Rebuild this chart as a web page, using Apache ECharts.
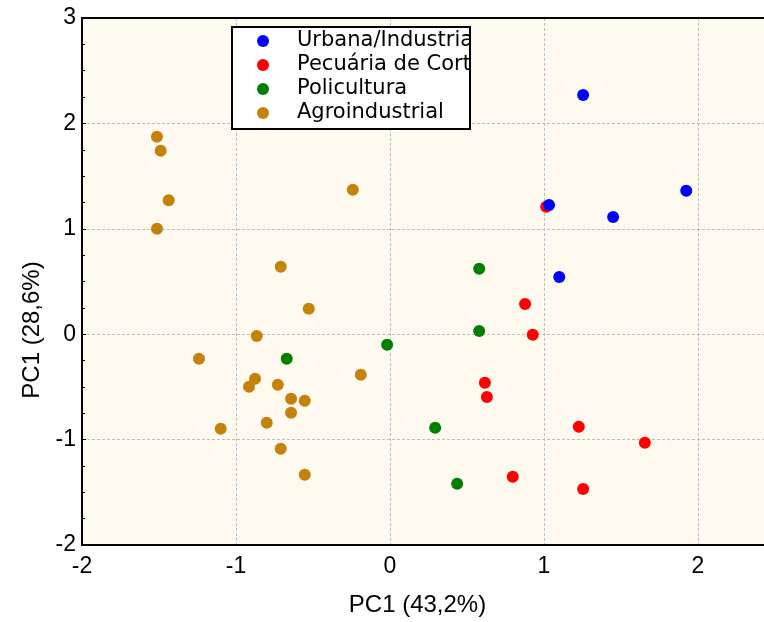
<!DOCTYPE html>
<html>
<head>
<meta charset="utf-8">
<script src="https://cdn.jsdelivr.net/npm/echarts@6/dist/echarts.min.js"></script>
<style>
  html, body { margin: 0; padding: 0; background: #ffffff; }
  #chart { width: 764px; height: 622px; }
</style>
</head>
<body>
<div id="chart"></div>
<script>
// Group names (legend order)
const groupNames = ['Urbana/Industrial', 'Pecuária de Corte', 'Policultura', 'Agroindustrial'];
const groupColors = ['#0000ff', '#ff0000', '#008000', '#c4820a'];

// PCA scores [PC1, PC2] per group
const urbanaScores = [
  [1.255, 2.27], [1.925, 1.36], [1.034, 1.226], [1.45, 1.112], [1.10, 0.543]
];
const pecuariaScores = [
  [1.015, 1.21], [0.878, 0.287], [0.928, -0.005], [0.617, -0.46], [0.63, -0.596],
  [1.227, -0.878], [1.656, -1.03], [0.798, -1.352], [1.255, -1.469]
];
const policulturaScores = [
  [0.58, 0.621], [0.58, 0.03], [-0.018, -0.10], [0.294, -0.887], [0.437, -1.418],
  [-0.67, -0.232]
];
const agroScores = [
  [-1.513, 1.874], [-1.489, 1.741], [-1.437, 1.27], [-1.513, 1.001], [-0.241, 1.371],
  [-0.709, 0.64], [-0.527, 0.242], [-0.865, -0.017], [-1.24, -0.232], [-0.876, -0.422],
  [-0.915, -0.498], [-0.728, -0.479], [-0.642, -0.612], [-0.553, -0.631], [-0.642, -0.745],
  [-0.80, -0.84], [-1.099, -0.897], [-0.709, -1.086], [-0.553, -1.333], [-0.189, -0.384]
];

// Axis settings
const xRange = [-2, 2.43];
const yRange = [-2, 3];
const xTitle = 'PC1 (43,2%)';
const yTitle = 'PC1 (28,6%)';

const scoreSets = [urbanaScores, pecuariaScores, policulturaScores, agroScores];

const plotBg = '#fffaf0';
const gridLine = { show: true, lineStyle: { color: '#bdbdbd', type: [3, 2], width: 1 } };
const tickFont = { color: '#000', fontFamily: 'Liberation Sans, Arial, sans-serif', fontSize: 23 };
const titleFont = { color: '#000', fontFamily: 'Liberation Sans, Arial, sans-serif', fontSize: 24 };

// draw the later groups first so the blue points sit on top
const series = [];
for (let i = scoreSets.length - 1; i >= 0; i--) {
  series.push({
    name: groupNames[i],
    type: 'scatter',
    data: scoreSets[i],
    symbol: 'circle',
    symbolSize: 12,
    itemStyle: { color: groupColors[i], opacity: 1 },
    emphasis: { disabled: true },
    xAxisIndex: 0,
    yAxisIndex: 0,
    z: 2
  });
}

const chart = echarts.init(document.getElementById('chart'), null, { renderer: 'canvas' });
chart.setOption({
  animation: false,
  backgroundColor: '#ffffff',
  color: groupColors,
  grid: {
    left: 82, top: 18, right: 0, bottom: 77,
    show: true, backgroundColor: plotBg, borderWidth: 0
  },
  legend: {
    data: groupNames,
    orient: 'vertical',
    left: 257,
    top: 29,
    padding: 0,
    itemGap: 0,
    itemWidth: 12,
    itemHeight: 12,
    icon: 'circle',
    selectedMode: false,
    z: 4,
    textStyle: {
      color: '#000',
      fontFamily: 'DejaVu Sans, sans-serif',
      fontSize: 21,
      lineHeight: 24,
      padding: [0, 0, 0, 23]
    }
  },
  graphic: [{
    // legend frame
    type: 'rect',
    shape: { x: 232, y: 27, width: 238, height: 102 },
    style: { fill: '#ffffff', stroke: '#000000', lineWidth: 2 },
    z: 3,
    silent: true
  }, {
    // the frame cuts the two long names at its right edge
    type: 'rect',
    shape: { x: 471, y: 29, width: 40, height: 50 },
    style: { fill: plotBg },
    z: 5,
    silent: true
  }],
  xAxis: [{
    type: 'value',
    min: xRange[0], max: xRange[1], interval: 1,
    name: xTitle,
    nameLocation: 'middle',
    nameGap: 48,
    nameTextStyle: Object.assign({ padding: [0, 11, 0, 0] }, titleFont),
    axisLine: { show: true, onZero: false, lineStyle: { color: '#000', width: 2 } },
    axisTick: { show: false },
    axisLabel: Object.assign({ margin: 10, showMaxLabel: false }, tickFont),
    splitLine: gridLine
  }, {
    type: 'value',
    position: 'top',
    min: xRange[0], max: xRange[1], interval: 1,
    axisLine: { show: true, onZero: false, lineStyle: { color: '#000', width: 2 } },
    axisTick: { show: false },
    axisLabel: { show: false },
    splitLine: { show: false }
  }],
  yAxis: [{
    type: 'value',
    min: yRange[0], max: yRange[1], interval: 1,
    name: yTitle,
    nameLocation: 'middle',
    nameGap: 37,
    nameTextStyle: Object.assign({ padding: [0, 97, 0, 0] }, titleFont),
    axisLine: { show: true, onZero: false, lineStyle: { color: '#000', width: 2 } },
    axisTick: { show: true, inside: true, length: 4, lineStyle: { color: '#000', width: 1 } },
    minorTick: { show: true, splitNumber: 4, length: 3, lineStyle: { color: '#000', width: 1 } },
    axisLabel: Object.assign({ margin: 6 }, tickFont),
    splitLine: gridLine
  }],
  series: series
});
</script>
</body>
</html>
